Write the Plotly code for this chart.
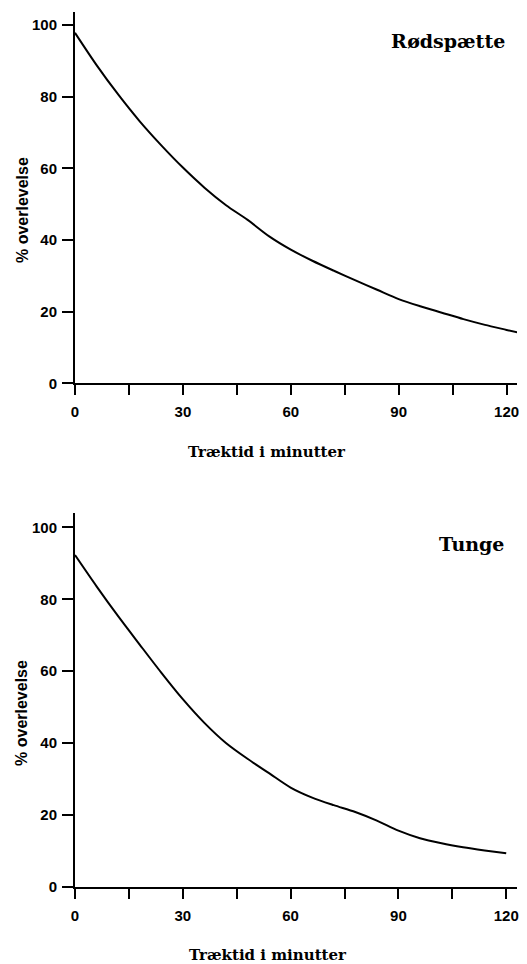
import plotly.graph_objects as go

# Data
minutes_top = [0, 6, 12, 18, 24, 30, 36, 42, 48, 54, 60, 66, 72, 78, 84, 90, 96, 102, 108, 114, 120, 123]
survival_top = [97.8, 88.8, 80.6, 73.1, 66.4, 60.2, 54.6, 49.7, 45.6, 41.0, 37.3, 34.2, 31.4, 28.7, 26.1,
                23.5, 21.5, 19.7, 17.9, 16.3, 14.9, 14.2]

minutes_bot = [0, 6, 12, 18, 24, 30, 36, 42, 48, 54, 60, 66, 72, 78, 84, 90, 96, 102, 108, 114, 120]
survival_bot = [92.3, 83.6, 75.3, 67.4, 59.6, 52.2, 45.6, 40.0, 35.6, 31.6, 27.6, 24.8, 22.7, 20.8, 18.4,
                15.6, 13.5, 12.1, 11.0, 10.1, 9.3]

x_ticks = [0, 30, 60, 90, 120]
y_ticks = [0, 20, 40, 60, 80, 100]

title_top = "Rødspætte"
title_bot = "Tunge"
x_title = "Træktid i minutter"
y_title = "% overlevelse"

W, H = 519.0, 956.0
fig = go.Figure()
fig.add_trace(go.Scatter(x=minutes_top, y=survival_top, mode="lines",
                         line=dict(color="black", width=2, shape="spline", smoothing=0.8),
                         xaxis="x", yaxis="y", showlegend=False, hoverinfo="skip"))
fig.add_trace(go.Scatter(x=minutes_bot, y=survival_bot, mode="lines",
                         line=dict(color="black", width=2, shape="spline", smoothing=0.8),
                         xaxis="x2", yaxis="y2", showlegend=False, hoverinfo="skip"))

tickfont = dict(family="Liberation Sans", size=15, color="black", weight="bold")

def xax(anchor, rng):
    return dict(anchor=anchor, domain=[0, 1], range=rng, showline=True, linewidth=2, linecolor="black",
                showgrid=False, zeroline=False, ticks="outside", ticklen=10, tickwidth=2, tickcolor="black",
                tickvals=x_ticks, tickfont=tickfont, ticklabelstandoff=4, automargin=False,
                minor=dict(dtick=15, tick0=0, ticks="outside", ticklen=10, tickwidth=2, tickcolor="black", showgrid=False))

def yax(anchor, rng, dom):
    return dict(anchor=anchor, domain=dom, range=rng, showline=True, linewidth=2, linecolor="black",
                showgrid=False, zeroline=False, ticks="outside", ticklen=11, tickwidth=2, tickcolor="black",
                tickvals=y_ticks, tickfont=tickfont, ticklabelstandoff=2, automargin=False)

fig.update_layout(
    width=W, height=H, margin=dict(l=67, r=10, t=0, b=0),
    paper_bgcolor="white", plot_bgcolor="white",
    xaxis=xax("y", [0, 122.9]),
    yaxis=yax("x", [0, 103.7], [1 - 375.3 / H, 1 - 3.7 / H]),
    xaxis2=xax("y2", [0, 123.0]),
    yaxis2=yax("x2", [0, 104.1], [1 - 878.7 / H, 1 - 504.7 / H]),
)

serif_title = dict(family="DejaVu Serif", size=19, color="black", weight="bold")
serif_axis = dict(family="DejaVu Serif", size=15, color="black", weight="bold")
sans_axis = dict(family="Liberation Sans", size=16, color="black", weight="bold")

ann = [
    dict(text=title_top, xref="x", yref="y", x=120, y=95.6, xanchor="right", yanchor="middle", showarrow=False, font=serif_title),
    dict(text=title_bot, xref="x2", yref="y2", x=120, y=95.4, xanchor="right", yanchor="middle", showarrow=False, font=serif_title),
    dict(text=x_title, xref="paper", yref="paper", x=0.4344, y=0.5356, xanchor="center", yanchor="middle", showarrow=False, font=serif_axis),
    dict(text=x_title, xref="paper", yref="paper", x=0.4367, y=0.0094, xanchor="center", yanchor="middle", showarrow=False, font=serif_axis),
    dict(text=y_title, xref="paper", yref="paper", x=-0.1199, y=0.7887, textangle=-90, xanchor="center", yanchor="middle", showarrow=False, font=sans_axis),
    dict(text=y_title, xref="paper", yref="paper", x=-0.1199, y=0.2626, textangle=-90, xanchor="center", yanchor="middle", showarrow=False, font=sans_axis),
]
fig.update_layout(annotations=ann)

fig.write_html("out.html")
